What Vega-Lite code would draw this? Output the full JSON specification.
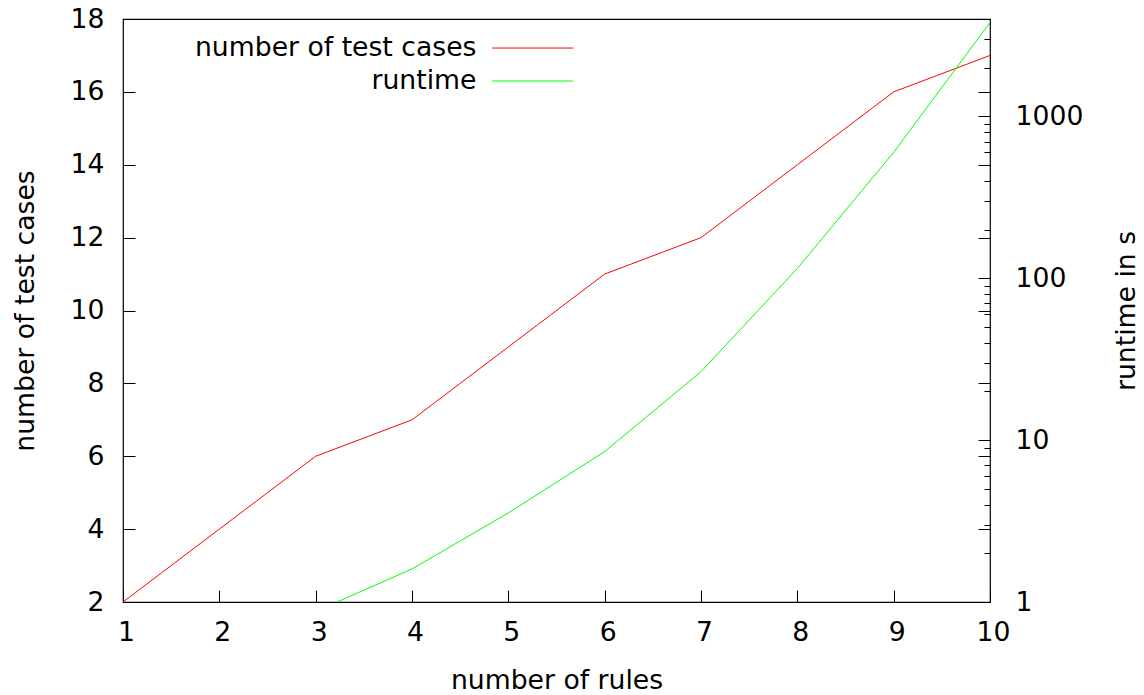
{
  "$schema": "https://vega.github.io/schema/vega-lite/v6.json",
  "width": 867,
  "height": 583,
  "autosize": {"type": "none"},
  "padding": {"left": 123, "top": 19, "right": 154, "bottom": 93},
  "config": {
    "font": "DejaVu Sans",
    "background": "#ffffff",
    "view": {"stroke": "#000000", "strokeWidth": 1.2},
    "axis": {
      "domain": false,
      "grid": false,
      "labelFontSize": 26.67,
      "titleFontSize": 26.67,
      "titleFontWeight": "normal",
      "labelColor": "#000000",
      "titleColor": "#000000",
      "tickColor": "#000000",
      "tickWidth": 1,
      "tickSize": -12,
      "labelFlush": false,
      "labelOverlap": false
    },
    "line": {"strokeWidth": 1}
  },
  "data": {
    "values": [
      {"rules": 1, "testcases": 2, "runtime": null},
      {"rules": 2, "testcases": 4, "runtime": null},
      {"rules": 3, "testcases": 6, "runtime": 0.875},
      {"rules": 4, "testcases": 7, "runtime": 1.6},
      {"rules": 5, "testcases": 9, "runtime": 3.55},
      {"rules": 6, "testcases": 11, "runtime": 8.5},
      {"rules": 7, "testcases": 12, "runtime": 26.5},
      {"rules": 8, "testcases": 14, "runtime": 115},
      {"rules": 9, "testcases": 16, "runtime": 600},
      {"rules": 10, "testcases": 17, "runtime": 3800}
    ]
  },
  "encoding": {
    "x": {
      "field": "rules",
      "type": "quantitative",
      "scale": {"domain": [1, 10], "nice": false, "zero": false},
      "axis": {
        "values": [1, 2, 3, 4, 5, 6, 7, 8, 9, 10],
        "title": "number of rules",
        "labelPadding": 29,
        "labelOffset": 3,
        "titleX": 433.5,
        "titleY": 78,
        "titleAlign": "center",
        "titleBaseline": "middle"
      }
    }
  },
  "layer": [
    {
      "layer": [
        {
          "mark": {"type": "line", "clip": true},
          "encoding": {
            "y": {
              "field": "testcases",
              "type": "quantitative",
              "scale": {"domain": [2, 18], "nice": false, "zero": false},
              "axis": {
                "orient": "left",
                "values": [2, 4, 6, 8, 10, 12, 14, 16, 18],
                "title": "number of test cases",
                "labelPadding": 31,
                "titleAngle": 270,
                "titleX": -98,
                "titleY": 291.5,
                "titleAlign": "center",
                "titleBaseline": "middle"
              }
            },
            "color": {
              "datum": "number of test cases",
              "type": "nominal",
              "scale": {
                "domain": ["number of test cases", "runtime"],
                "range": ["#ff0000", "#00ff00"]
              },
              "legend": {
                "orient": "none",
                "legendX": 396.4,
                "legendY": 15.7,
                "title": null,
                "padding": 0,
                "symbolType": "M-4,0H4",
                "symbolSize": 410,
                "symbolStrokeWidth": 1,
                "labelFontSize": 26.67,
                "labelColor": "#000000",
                "labelAlign": "right",
                "labelOffset": -69.6,
                "labelLimit": 0,
                "rowPadding": 5
              }
            }
          }
        },
        {
          "mark": {"type": "line", "opacity": 0},
          "encoding": {
            "y": {
              "field": "testcases",
              "type": "quantitative",
              "axis": {
                "orient": "right",
                "values": [2, 4, 6, 8, 10, 12, 14, 16, 18],
                "labels": false,
                "title": null
              }
            }
          }
        }
      ],
      "resolve": {"axis": {"y": "independent"}}
    },
    {
      "layer": [
        {
          "mark": {"type": "line", "clip": true},
          "encoding": {
            "y": {
              "field": "runtime",
              "type": "quantitative",
              "scale": {"type": "log", "domain": [1, 4000], "nice": false},
              "axis": {
                "orient": "right",
                "values": [1, 10, 100, 1000],
                "format": "d",
                "title": "runtime in s",
                "labelPadding": 37,
                "titleAngle": 270,
                "titleX": 136,
                "titleY": 291.5,
                "titleAlign": "center",
                "titleBaseline": "middle"
              }
            },
            "color": {"datum": "runtime", "type": "nominal"}
          }
        },
        {
          "mark": {"type": "line", "opacity": 0, "clip": true},
          "encoding": {
            "y": {
              "field": "runtime",
              "type": "quantitative",
              "axis": {
                "orient": "right",
                "values": [2, 3, 4, 5, 6, 7, 8, 9, 20, 30, 40, 50, 60, 70, 80, 90, 200, 300, 400, 500, 600, 700, 800, 900, 2000, 3000],
                "labels": false,
                "tickSize": -6,
                "title": null
              }
            }
          }
        }
      ],
      "resolve": {"axis": {"y": "independent"}}
    }
  ],
  "resolve": {"scale": {"y": "independent"}}
}
